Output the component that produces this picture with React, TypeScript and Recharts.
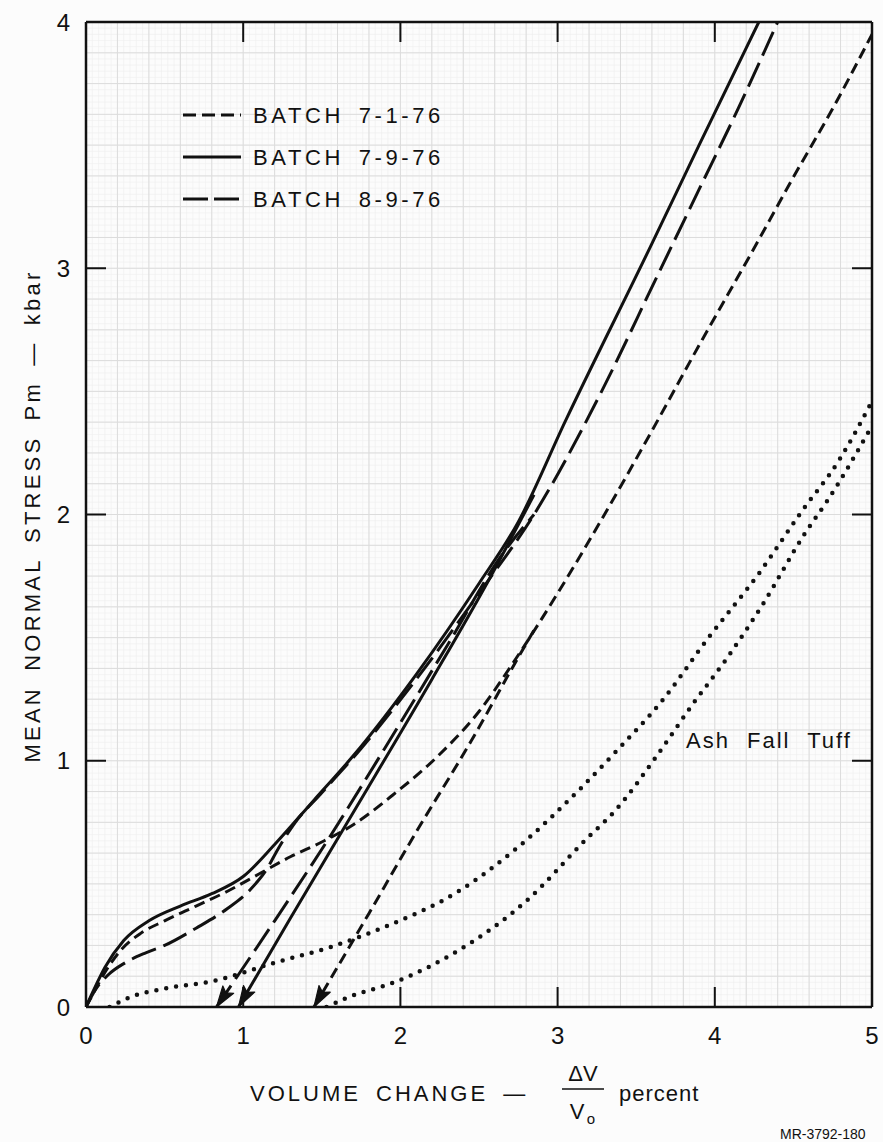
import React from 'react';
import { LineChart, Line, XAxis, YAxis, CartesianGrid } from 'recharts';

// page + plot geometry
const W = 883;
const H = 1142;
const PLOT = { left: 86, top: 22, right: 872, bottom: 1007 };
const X_MAX = 5;
const Y_MAX = 4;
const PX_V = (PLOT.right - PLOT.left) / X_MAX;
const PX_P = (PLOT.bottom - PLOT.top) / Y_MAX;
const TICK_LEN = 20;

const BOTTOM_AXIS_H = 40;
const LEFT_AXIS_W = 50;

const FONT = '"Liberation Sans", Arial, Helvetica, sans-serif';
const INK = '#111';

const xTicks = [0, 1, 2, 3, 4, 5];
const yTicks = [0, 1, 2, 3, 4];
const innerXTicks = [1, 2, 3, 4];
const innerYTicks = [1, 2, 3];

const batchLabels = ['BATCH 7-1-76', 'BATCH 7-9-76', 'BATCH 8-9-76'];

// volume change (%) vs mean normal stress (kbar)
const batch7176Load = [
  { v: 0, p: 0 }, { v: 0.05, p: 0.06 }, { v: 0.12, p: 0.14 }, { v: 0.22, p: 0.23 },
  { v: 0.35, p: 0.3 }, { v: 0.5, p: 0.35 }, { v: 0.7, p: 0.41 }, { v: 0.9, p: 0.47 },
  { v: 1.1, p: 0.54 }, { v: 1.3, p: 0.61 }, { v: 1.5, p: 0.67 }, { v: 1.7, p: 0.74 },
  { v: 1.95, p: 0.86 }, { v: 2.24, p: 1.02 }, { v: 2.5, p: 1.2 }, { v: 2.73, p: 1.41 },
  { v: 3.0, p: 1.68 }, { v: 3.28, p: 1.98 }, { v: 3.6, p: 2.34 }, { v: 3.92, p: 2.71 },
  { v: 4.24, p: 3.07 }, { v: 4.5, p: 3.37 }, { v: 4.76, p: 3.66 }, { v: 5.0, p: 3.95 },
];
const batch7176Unload = [
  { v: 1.45, p: 0 }, { v: 1.8, p: 0.38 }, { v: 2.1, p: 0.71 }, { v: 2.45, p: 1.08 },
  { v: 2.75, p: 1.42 }, { v: 2.85, p: 1.53 },
];

const batch7976Load = [
  { v: 0, p: 0 }, { v: 0.05, p: 0.07 }, { v: 0.12, p: 0.16 }, { v: 0.24, p: 0.27 },
  { v: 0.4, p: 0.35 }, { v: 0.6, p: 0.41 }, { v: 0.8, p: 0.46 }, { v: 1.0, p: 0.53 },
  { v: 1.2, p: 0.66 }, { v: 1.45, p: 0.84 }, { v: 1.7, p: 1.02 }, { v: 2.1, p: 1.35 },
  { v: 2.5, p: 1.72 }, { v: 2.75, p: 1.97 }, { v: 3.05, p: 2.38 }, { v: 3.6, p: 3.1 },
  { v: 3.9, p: 3.5 }, { v: 4.28, p: 4.0 },
];
const batch7976Unload = [
  { v: 0.97, p: 0 }, { v: 1.3, p: 0.36 }, { v: 1.7, p: 0.79 }, { v: 2.2, p: 1.33 },
  { v: 2.55, p: 1.72 }, { v: 2.85, p: 2.08 },
];

const batch8976Load = [
  { v: 0, p: 0 }, { v: 0.06, p: 0.07 }, { v: 0.14, p: 0.13 }, { v: 0.25, p: 0.18 },
  { v: 0.38, p: 0.22 }, { v: 0.5, p: 0.25 }, { v: 0.7, p: 0.32 }, { v: 0.9, p: 0.4 },
  { v: 1.05, p: 0.48 }, { v: 1.15, p: 0.56 }, { v: 1.22, p: 0.64 }, { v: 1.32, p: 0.74 },
  { v: 1.5, p: 0.87 }, { v: 1.75, p: 1.05 }, { v: 2.1, p: 1.33 }, { v: 2.5, p: 1.68 },
  { v: 2.85, p: 2.0 }, { v: 3.28, p: 2.5 }, { v: 3.62, p: 2.95 }, { v: 3.9, p: 3.32 },
  { v: 4.15, p: 3.65 }, { v: 4.4, p: 4.0 },
];
const batch8976Unload = [
  { v: 0.83, p: 0 }, { v: 1.2, p: 0.35 }, { v: 1.54, p: 0.68 }, { v: 1.9, p: 1.05 },
  { v: 2.3, p: 1.47 }, { v: 2.65, p: 1.84 }, { v: 2.85, p: 2.0 },
];

// Ash Fall Tuff reference curves
const tuffUpper = [
  { v: 0.15, p: 0 }, { v: 0.3, p: 0.045 }, { v: 0.46, p: 0.07 }, { v: 0.84, p: 0.11 },
  { v: 1.2, p: 0.18 }, { v: 1.54, p: 0.24 }, { v: 1.88, p: 0.32 }, { v: 2.37, p: 0.47 },
  { v: 2.75, p: 0.65 }, { v: 3.15, p: 0.89 }, { v: 3.39, p: 1.05 }, { v: 3.66, p: 1.24 },
  { v: 3.96, p: 1.5 }, { v: 4.28, p: 1.76 }, { v: 4.55, p: 2.01 }, { v: 4.79, p: 2.22 },
  { v: 5.0, p: 2.46 },
];
const tuffLower = [
  { v: 1.53, p: 0 }, { v: 1.67, p: 0.04 }, { v: 1.96, p: 0.1 }, { v: 2.37, p: 0.23 },
  { v: 2.8, p: 0.43 }, { v: 3.18, p: 0.68 }, { v: 3.37, p: 0.8 }, { v: 3.62, p: 1.01 },
  { v: 3.86, p: 1.23 }, { v: 4.07, p: 1.41 }, { v: 4.3, p: 1.63 }, { v: 4.58, p: 1.93 },
  { v: 4.71, p: 2.05 }, { v: 5.0, p: 2.36 },
];

// graph-paper rulings
const gridMajorX: number[] = [];
for (let i = 1; i < 25; i++) gridMajorX.push(i * 0.2);
const gridMajorY: number[] = [];
for (let i = 1; i < 32; i++) gridMajorY.push(i * 0.125);
const gridMinorX: number[] = [];
for (let i = 1; i < 125; i++) gridMinorX.push(i * 0.04);
const gridMinorY: number[] = [];
for (let i = 1; i < 160; i++) gridMinorY.push(i * 0.025);

const DASH_SHORT = '11 6';
const DASH_LONG = '26 8';

// filled arrowhead on the first point (the zero-stress end) of an unloading path
const arrowDot = (data: { v: number; p: number }[]) => (props: any) => {
  const { cx, cy, index } = props;
  if (index !== 0 || cx == null || cy == null) return <g key={`n-${index}`} />;
  const dx = (data[0].v - data[1].v) * PX_V;
  const dy = -(data[0].p - data[1].p) * PX_P;
  const ang = (Math.atan2(dy, dx) * 180) / Math.PI;
  return (
    <g key="arrow" transform={`translate(${cx},${cy}) rotate(${ang})`}>
      <path d="M0,0 L-21,-6.5 L-17,0 L-21,6.5 Z" fill={INK} stroke={INK} strokeWidth={1.2} strokeLinejoin="round" />
    </g>
  );
};

const lineProps = {
  dataKey: 'p',
  stroke: INK,
  strokeWidth: 3,
  type: 'monotone' as const,
  dot: false,
  activeDot: false,
  isAnimationActive: false,
  legendType: 'none' as const,
};

const axisLine = { stroke: INK, strokeWidth: 2.5 };
const tickLine = { stroke: INK, strokeWidth: 2 };
const tickText = { fill: INK, fontSize: 24, fontFamily: FONT };

const Overlay = () => (
  <svg
    width={W}
    height={H}
    style={{ position: 'absolute', left: 0, top: 0, pointerEvents: 'none' }}
    fontFamily={FONT}
    fill={INK}
  >
    {/* inward tick marks hanging from the top edge */}
    {innerXTicks.map((t) => {
      const x = PLOT.left + t * PX_V;
      return <line key={t} x1={x} x2={x} y1={PLOT.top} y2={PLOT.top + TICK_LEN} stroke={INK} strokeWidth={2} />;
    })}

    {/* legend */}
    {batchLabels.map((label, i) => {
      const y = 115 + i * 42;
      const dash = i === 0 ? '13 6' : i === 2 ? '25 6' : undefined;
      return (
        <g key={label}>
          <line x1={183} x2={241} y1={y} y2={y} stroke={INK} strokeWidth={3} strokeDasharray={dash} />
          <text x={253} y={y + 8} fontSize={22} letterSpacing={3.6} wordSpacing={5}>
            {label}
          </text>
        </g>
      );
    })}

    <text x={686} y={748} fontSize={22} letterSpacing={2} wordSpacing={9}>
      Ash Fall Tuff
    </text>

    {/* y-axis title */}
    <text
      transform="translate(40,516) rotate(-90)"
      textAnchor="middle"
      fontSize={22}
      letterSpacing={3.2}
      wordSpacing={6}
    >
      MEAN NORMAL STRESS Pm  —  kbar
    </text>

    {/* x-axis title */}
    <text x={250} y={1101} fontSize={22} letterSpacing={3} wordSpacing={6}>
      VOLUME CHANGE  —
    </text>
    <text x={583} y={1081} fontSize={22} textAnchor="middle">ΔV</text>
    <line x1={562} x2={604} y1={1089} y2={1089} stroke={INK} strokeWidth={1.5} />
    <text x={577} y={1119} fontSize={22} textAnchor="middle">V</text>
    <text x={591} y={1124} fontSize={15} textAnchor="middle">o</text>
    <text x={619} y={1101} fontSize={22} letterSpacing={1}>percent</text>

    <text x={780} y={1139} fontSize={14}>MR-3792-180</text>
  </svg>
);

export default function App() {
  return (
    <div style={{ position: 'absolute', left: 0, top: 0, width: W, height: H, background: '#fcfcfc' }}>
      <LineChart
        width={W}
        height={H}
        margin={{
          top: PLOT.top - 1,
          right: W - PLOT.right - 1,
          bottom: H - PLOT.bottom - BOTTOM_AXIS_H,
          left: PLOT.left - LEFT_AXIS_W,
        }}
      >
        <CartesianGrid
          horizontalValues={gridMinorY}
          verticalValues={gridMinorX}
          stroke="#eeeeee"
          strokeWidth={0.6}
        />
        <CartesianGrid
          horizontalValues={gridMajorY}
          verticalValues={gridMajorX}
          stroke="#dcdcdc"
          strokeWidth={1}
        />

        <XAxis
          dataKey="v"
          type="number"
          domain={[0, X_MAX]}
          ticks={xTicks}
          interval={0}
          allowDataOverflow
          height={BOTTOM_AXIS_H}
          tickSize={-TICK_LEN}
          tickMargin={40}
          axisLine={axisLine}
          tickLine={tickLine}
          tick={tickText}
        />
        {/* top edge of the frame */}
        <XAxis
          xAxisId="top"
          orientation="top"
          type="number"
          domain={[0, X_MAX]}
          allowDataOverflow
          height={1}
          axisLine={axisLine}
          tickLine={false}
          tick={false}
        />
        <YAxis
          type="number"
          domain={[0, Y_MAX]}
          ticks={yTicks}
          interval={0}
          allowDataOverflow
          width={LEFT_AXIS_W}
          tickSize={-TICK_LEN}
          tickMargin={36}
          axisLine={axisLine}
          tickLine={tickLine}
          tick={tickText}
        />
        {/* right edge: inward tick marks only */}
        <YAxis
          yAxisId="right"
          orientation="right"
          type="number"
          domain={[0, Y_MAX]}
          ticks={innerYTicks}
          interval={0}
          allowDataOverflow
          width={1}
          tickSize={-TICK_LEN}
          axisLine={axisLine}
          tickLine={tickLine}
          tickFormatter={() => ''}
        />

        {/* Ash Fall Tuff, dotted */}
        <Line {...lineProps} data={tuffUpper} strokeWidth={4.5} strokeDasharray="0 10" strokeLinecap="round" />
        <Line {...lineProps} data={tuffLower} strokeWidth={4.5} strokeDasharray="0 10" strokeLinecap="round" />

        {/* 7-1-76 short dash */}
        <Line {...lineProps} data={batch7176Load} strokeDasharray={DASH_SHORT} />
        <Line {...lineProps} data={batch7176Unload} strokeDasharray={DASH_SHORT} dot={arrowDot(batch7176Unload)} />

        {/* 7-9-76 solid */}
        <Line {...lineProps} data={batch7976Load} />
        <Line {...lineProps} data={batch7976Unload} dot={arrowDot(batch7976Unload)} />

        {/* 8-9-76 long dash */}
        <Line {...lineProps} data={batch8976Load} strokeDasharray={DASH_LONG} />
        <Line {...lineProps} data={batch8976Unload} strokeDasharray={DASH_LONG} dot={arrowDot(batch8976Unload)} />
      </LineChart>
      <Overlay />
    </div>
  );
}
